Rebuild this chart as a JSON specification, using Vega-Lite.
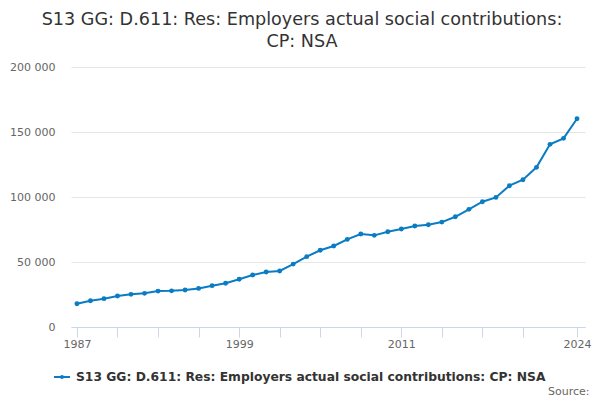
{
  "$schema": "https://vega.github.io/schema/vega-lite/v6.json",
  "width": 514,
  "height": 260,
  "autosize": {"type": "none"},
  "padding": {"left": 71, "top": 67, "right": 15, "bottom": 73},
  "background": "white",
  "title": {
    "text": ["S13 GG: D.611: Res: Employers actual social contributions:", "CP: NSA"],
    "anchor": "middle",
    "dx": -26,
    "offset": 10,
    "font": "DejaVu Sans",
    "fontSize": 17.6,
    "fontWeight": "normal",
    "color": "#333333",
    "lineHeight": 22
  },
  "data": {
    "values": [
      {"year": 1987, "value": 17900, "series": "S13 GG: D.611: Res: Employers actual social contributions: CP: NSA"},
      {"year": 1988, "value": 20200, "series": "S13 GG: D.611: Res: Employers actual social contributions: CP: NSA"},
      {"year": 1989, "value": 21800, "series": "S13 GG: D.611: Res: Employers actual social contributions: CP: NSA"},
      {"year": 1990, "value": 23800, "series": "S13 GG: D.611: Res: Employers actual social contributions: CP: NSA"},
      {"year": 1991, "value": 25100, "series": "S13 GG: D.611: Res: Employers actual social contributions: CP: NSA"},
      {"year": 1992, "value": 25900, "series": "S13 GG: D.611: Res: Employers actual social contributions: CP: NSA"},
      {"year": 1993, "value": 27600, "series": "S13 GG: D.611: Res: Employers actual social contributions: CP: NSA"},
      {"year": 1994, "value": 27800, "series": "S13 GG: D.611: Res: Employers actual social contributions: CP: NSA"},
      {"year": 1995, "value": 28500, "series": "S13 GG: D.611: Res: Employers actual social contributions: CP: NSA"},
      {"year": 1996, "value": 29700, "series": "S13 GG: D.611: Res: Employers actual social contributions: CP: NSA"},
      {"year": 1997, "value": 31800, "series": "S13 GG: D.611: Res: Employers actual social contributions: CP: NSA"},
      {"year": 1998, "value": 33600, "series": "S13 GG: D.611: Res: Employers actual social contributions: CP: NSA"},
      {"year": 1999, "value": 36700, "series": "S13 GG: D.611: Res: Employers actual social contributions: CP: NSA"},
      {"year": 2000, "value": 40000, "series": "S13 GG: D.611: Res: Employers actual social contributions: CP: NSA"},
      {"year": 2001, "value": 42300, "series": "S13 GG: D.611: Res: Employers actual social contributions: CP: NSA"},
      {"year": 2002, "value": 43100, "series": "S13 GG: D.611: Res: Employers actual social contributions: CP: NSA"},
      {"year": 2003, "value": 48400, "series": "S13 GG: D.611: Res: Employers actual social contributions: CP: NSA"},
      {"year": 2004, "value": 54100, "series": "S13 GG: D.611: Res: Employers actual social contributions: CP: NSA"},
      {"year": 2005, "value": 59000, "series": "S13 GG: D.611: Res: Employers actual social contributions: CP: NSA"},
      {"year": 2006, "value": 62300, "series": "S13 GG: D.611: Res: Employers actual social contributions: CP: NSA"},
      {"year": 2007, "value": 67400, "series": "S13 GG: D.611: Res: Employers actual social contributions: CP: NSA"},
      {"year": 2008, "value": 71500, "series": "S13 GG: D.611: Res: Employers actual social contributions: CP: NSA"},
      {"year": 2009, "value": 70500, "series": "S13 GG: D.611: Res: Employers actual social contributions: CP: NSA"},
      {"year": 2010, "value": 73300, "series": "S13 GG: D.611: Res: Employers actual social contributions: CP: NSA"},
      {"year": 2011, "value": 75400, "series": "S13 GG: D.611: Res: Employers actual social contributions: CP: NSA"},
      {"year": 2012, "value": 77700, "series": "S13 GG: D.611: Res: Employers actual social contributions: CP: NSA"},
      {"year": 2013, "value": 78700, "series": "S13 GG: D.611: Res: Employers actual social contributions: CP: NSA"},
      {"year": 2014, "value": 80700, "series": "S13 GG: D.611: Res: Employers actual social contributions: CP: NSA"},
      {"year": 2015, "value": 84800, "series": "S13 GG: D.611: Res: Employers actual social contributions: CP: NSA"},
      {"year": 2016, "value": 90500, "series": "S13 GG: D.611: Res: Employers actual social contributions: CP: NSA"},
      {"year": 2017, "value": 96400, "series": "S13 GG: D.611: Res: Employers actual social contributions: CP: NSA"},
      {"year": 2018, "value": 99700, "series": "S13 GG: D.611: Res: Employers actual social contributions: CP: NSA"},
      {"year": 2019, "value": 108700, "series": "S13 GG: D.611: Res: Employers actual social contributions: CP: NSA"},
      {"year": 2020, "value": 113300, "series": "S13 GG: D.611: Res: Employers actual social contributions: CP: NSA"},
      {"year": 2021, "value": 122800, "series": "S13 GG: D.611: Res: Employers actual social contributions: CP: NSA"},
      {"year": 2022, "value": 140500, "series": "S13 GG: D.611: Res: Employers actual social contributions: CP: NSA"},
      {"year": 2023, "value": 145100, "series": "S13 GG: D.611: Res: Employers actual social contributions: CP: NSA"},
      {"year": 2024, "value": 160200, "series": "S13 GG: D.611: Res: Employers actual social contributions: CP: NSA"}
    ]
  },
  "mark": {"type": "line", "strokeWidth": 2, "point": {"size": 24, "filled": true}},
  "encoding": {
    "x": {
      "field": "year",
      "type": "quantitative",
      "scale": {"domain": [1986.56, 2024.59], "nice": false, "zero": false},
      "axis": {
        "values": [1987, 1990, 1993, 1996, 1999, 2002, 2005, 2008, 2011, 2014, 2017, 2020, 2024],
        "labelExpr": "(datum.value == 1987 || datum.value == 1999 || datum.value == 2011 || datum.value == 2024) ? datum.value + '' : ''",
        "grid": false,
        "domainColor": "#ccd6eb",
        "tickColor": "#ccd6eb",
        "tickSize": 10,
        "labelFont": "DejaVu Sans",
        "labelFontSize": 11,
        "labelColor": "#666666",
        "labelPadding": 1,
        "labelFlush": false,
        "labelOverlap": false,
        "title": "Source:",
        "titleFont": "DejaVu Sans",
        "titleFontSize": 11,
        "titleFontWeight": "normal",
        "titleColor": "#666666",
        "titleAnchor": "end",
        "titleAlign": "right",
        "titleBaseline": "alphabetic",
        "titleX": 518,
        "titleY": 67
      }
    },
    "y": {
      "field": "value",
      "type": "quantitative",
      "scale": {"domain": [0, 200000], "nice": false},
      "axis": {
        "values": [0, 50000, 100000, 150000, 200000],
        "labelExpr": "replace(format(datum.value, ','), regexp(',', 'g'), ' ')",
        "domain": false,
        "ticks": false,
        "gridColor": "#e6e6e6",
        "labelFont": "DejaVu Sans",
        "labelFontSize": 11,
        "labelColor": "#666666",
        "labelPadding": 16,
        "title": null
      }
    },
    "color": {
      "field": "series",
      "type": "nominal",
      "scale": {"range": ["#0a7cc4"]},
      "legend": {
        "title": null,
        "orient": "none",
        "legendX": -17,
        "legendY": 302,
        "symbolType": "M-1,-0.125L1,-0.125L1,0.125L-1,0.125Z M0.25,0A0.25,0.25 0 1,1 -0.25,0A0.25,0.25 0 1,1 0.25,0Z",
        "symbolSize": 256,
        "symbolStrokeWidth": 0,
        "symbolFillColor": "#0a7cc4",
        "labelOffset": 6,
        "labelFont": "DejaVu Sans",
        "labelFontSize": 12.3,
        "labelFontWeight": "bold",
        "labelColor": "#333333",
        "labelLimit": 600
      }
    }
  },
  "config": {"view": {"stroke": null}}
}
